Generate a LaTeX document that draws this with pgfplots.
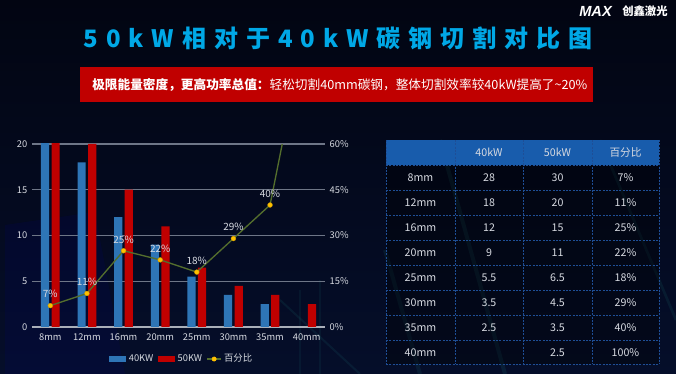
\documentclass[border=0pt]{standalone}
\usepackage{fontspec}
\usepackage{pgfplots}
\pgfplotsset{compat=1.18}
\setmainfont{Noto Sans CJK SC}
\newfontfamily\logofont{Liberation Sans}
\definecolor{bgtop}{RGB}{2,5,18}
\definecolor{bgbot}{RGB}{5,14,42}
\definecolor{titlec}{RGB}{0,168,230}
\definecolor{bannerred}{RGB}{192,0,0}
\definecolor{barblue}{RGB}{46,117,182}
\definecolor{barred}{RGB}{192,0,0}
\definecolor{linegreen}{RGB}{84,110,45}
\definecolor{markyellow}{RGB}{255,192,0}
\definecolor{gridc}{RGB}{110,118,135}
\definecolor{axisc}{RGB}{170,175,185}
\definecolor{textc}{RGB}{215,218,225}
\definecolor{tabhead}{RGB}{24,92,172}
\definecolor{tabline}{RGB}{30,78,150}
\definecolor{teal1}{RGB}{40,160,150}
\begin{document}
\begin{tikzpicture}
\useasboundingbox (0,0) rectangle (507pt,280.5pt);
\shade[top color=bgtop, bottom color=bgbot] (0,0) rectangle (507pt,280.5pt);
\begin{scope}[x=0.75pt,y=-0.75pt,shift={(0,280.5pt)}]
  % faint decorations
  \fill[blue!60!black, opacity=0.10] (5,225) -- (95,212) -- (125,374) -- (5,374) -- cycle;
  \draw[teal1, opacity=0.12, line width=3pt] (440,140) -- (505,374);
  \draw[teal1, opacity=0.10, line width=3pt] (385,250) -- (420,374);
  \draw[teal1, opacity=0.10, line width=2pt] (600,140) -- (676,320);
  \draw[teal1, opacity=0.10, line width=1.5pt] (280,300) -- (360,374);
  \draw[teal1, opacity=0.08, line width=1.5pt] (300,290) -- (300,374);
  \draw[teal1, opacity=0.08, line width=1.5pt] (320,280) -- (320,374);
  % title
  \node[text=titlec, font=\fontsize{18}{20}\selectfont\bfseries\addfontfeatures{LetterSpace=33}] at (338,38) {50kW相对于40kW碳钢切割对比图};
  % banner
  \fill[bannerred] (80,67) rectangle (593,102);
  \node[anchor=west, text=white, inner sep=0pt, font=\fontsize{9.5}{11}\selectfont] at (92,85) {{\bfseries 极限能量密度，更高功率总值：}轻松切割40mm碳钢，整体切割效率较40kW提高了\char"7E 20\%};
  % logo
  \node[anchor=west, text=white, inner sep=0pt, font=\logofont\fontsize{11}{12}\selectfont\bfseries\itshape] at (579,11) {MAX};
  \node[anchor=west, text=white, inner sep=0pt, font=\fontsize{8.5}{9}\selectfont\bfseries] at (622,11) {创鑫激光};
  % table
  \fill[tabhead] (386,140) rectangle (659,165);
  \fill[black, opacity=0.35] (386,165) rectangle (659,364);
  \foreach \yy in {165,190,215,240,265,290,315,340,364}
    \draw[tabline, line width=0.6pt, dash pattern=on 1.5pt off 1pt] (386,\yy) -- (659,\yy);
  \foreach \xx in {386,455,523,592,659}
    \draw[tabline, line width=0.6pt, dash pattern=on 1.5pt off 1pt] (\xx,140) -- (\xx,364);
  \begin{scope}[every node/.style={text=textc, font=\fontsize{8}{9}\selectfont, inner sep=0pt}]
    \node at (489,152.5) {40kW};
    \node at (557.5,152.5) {50kW};
    \node at (625.5,152.5) {百分比};
    \foreach \r/\a/\b/\c/\d in {0/8mm/28/30/7,1/12mm/18/20/11,2/16mm/12/15/25,3/20mm/9/11/22,4/25mm/5.5/6.5/18,5/30mm/3.5/4.5/29,6/35mm/2.5/3.5/40,7/40mm//2.5/100}{
      \node at (420.5,177.5+25*\r) {\a};
      \node at (489,177.5+25*\r) {\b};
      \node at (557.5,177.5+25*\r) {\c};
      \node at (625.5,177.5+25*\r) {\d\%};
    }
  \end{scope}
\end{scope}
% bar axis
\begin{axis}[
  at={(24pt,35.25pt)}, anchor=south west,
  scale only axis, width=219.75pt, height=137.25pt,
  xmin=-0.5, xmax=7.5, ymin=0, ymax=20,
  xtick={0,...,7}, xticklabels={8mm,12mm,16mm,20mm,25mm,30mm,35mm,40mm},
  ytick={0,5,10,15,20},
  axis x line*=bottom, axis y line*=left,
  y axis line style={draw=none},
  x axis line style={draw=axisc, line width=0.9pt},
  major tick length=0pt,
  ymajorgrids, grid style={draw=gridc, line width=0.8pt},
  ticklabel style={font=\fontsize{7}{8}\selectfont, text=textc},
  xticklabel style={yshift=-1.5pt},
  /pgf/number format/assume math mode=true,
  clip=true,
  legend style={at={(0.512,-0.175)}, anchor=center, legend columns=-1, draw=none, fill=none,
    font=\fontsize{7}{8}\selectfont, text=textc, inner sep=0pt,
    /tikz/every even column/.append style={column sep=1.5pt}},
]
\addplot[ybar, bar width=0.225, bar shift=-0.145, fill=barblue, draw=none,
  legend image code/.code={\fill[barblue] (0pt,-2.25pt) rectangle (12.75pt,2.25pt);}]
  coordinates {(0,28) (1,18) (2,12) (3,9) (4,5.5) (5,3.5) (6,2.5)};
\addlegendentry{40KW}
\addplot[ybar, bar width=0.225, bar shift=0.145, fill=barred, draw=none,
  legend image code/.code={\fill[barred] (0pt,-2.25pt) rectangle (12.75pt,2.25pt);}]
  coordinates {(0,30) (1,20) (2,15) (3,11) (4,6.5) (5,4.5) (6,3.5) (7,2.5)};
\addlegendentry{50KW}
\addlegendimage{legend image code/.code={\draw[linegreen, line width=1pt] (0pt,0pt) -- (10pt,0pt); \fill[markyellow] (5pt,0pt) circle (1.6pt);}}
\addlegendentry{百分比}
\end{axis}
% line axis
\begin{axis}[
  at={(24pt,35.25pt)}, anchor=south west,
  scale only axis, width=219.75pt, height=137.25pt,
  xmin=-0.5, xmax=7.5, ymin=0, ymax=60,
  axis y line*=right, axis x line=none,
  y axis line style={draw=none},
  ytick={0,15,30,45,60},
  yticklabel={\pgfmathprintnumber{\tick}\%},
  major tick length=0pt,
  ticklabel style={font=\fontsize{7}{8}\selectfont, text=textc},
  /pgf/number format/assume math mode=true,
  clip=true,
]
\addplot[linegreen, line width=1pt, mark=*, mark size=1.8pt,
  mark options={fill=markyellow, draw=markyellow!80!black, line width=0.3pt}]
  coordinates {(0,7) (1,11) (2,25) (3,22) (4,18) (5,29) (6,40) (7,100)};
\addplot[draw=none, point meta=y,
  nodes near coords={\pgfmathprintnumber{\pgfplotspointmeta}\%},
  every node near coord/.style={font=\fontsize{7.5}{8}\selectfont, text=textc, anchor=center, yshift=8.5pt}]
  coordinates {(0,7) (1,11) (2,25) (3,22) (4,18) (5,29) (6,40)};
\end{axis}
\end{tikzpicture}
\end{document}
